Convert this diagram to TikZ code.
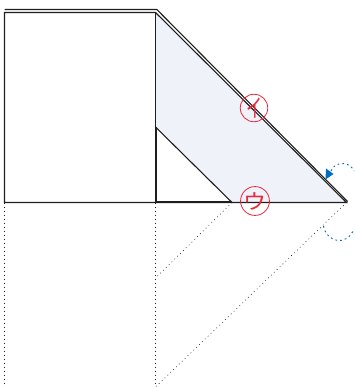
\documentclass[tikz,border=0pt]{standalone}
\usepackage{fontspec}
\newfontfamily\jpf{Noto Sans CJK JP}
\definecolor{paneltint}{RGB}{239,243,249}
\definecolor{ink}{RGB}{30,30,30}
\definecolor{markred}{RGB}{232,40,60}
\definecolor{turnblue}{RGB}{0,110,190}
\tikzset{
  edge/.style={draw=ink,line width=1.1pt},
  heavyedge/.style={draw=ink,line width=2pt,line cap=butt},
  guide/.style={draw=ink,line width=0.6pt,dash pattern=on 0.8pt off 3.2pt},
  turnline/.style={draw=turnblue,line width=0.9pt,dash pattern=on 1.8pt off 3pt},
  circled/.style={circle,draw=markred,line width=0.8pt,minimum size=27.5pt,inner sep=0pt,text=markred,font=\jpf\fontsize{20pt}{20pt}\selectfont}
}
\begin{document}
\begin{tikzpicture}[x=1pt,y=-1pt]
\useasboundingbox (0,0) rectangle (354,387);
\coordinate (tl) at (4.5,12.5);
\coordinate (tr) at (155.5,12.5);
\coordinate (bl) at (4.5,202.5);
\coordinate (br) at (155.5,202.5);
\coordinate (tip) at (346.5,202.5);
\coordinate (otl) at (4.5,9.5);
\coordinate (otr) at (156.8,9.5);
\coordinate (otip) at (347.5,201.5);
\coordinate (ti) at (155.5,127);
\coordinate (fi) at (232,202.5);
\coordinate (hv) at (156.3,127.5);
\coordinate (hc) at (156.3,201.7);
\coordinate (hb) at (231,201.7);
\coordinate (g1) at (4.5,387);
\coordinate (g2) at (155.5,387);
\coordinate (g3) at (155.5,278);
\fill[paneltint] (tr) -- (tip) -- (fi) -- (ti) -- cycle;
\path[guide] (bl) -- (g1);
\path[guide] (br) -- (g2);
\path[guide] (fi) -- (g3);
\path[guide] (tip) -- (g2);
\path[edge] (otl) -- (otr) -- (otip);
\path[edge] (tl) -- (tr) -- (tip) -- (bl) -- cycle;
\path[edge] (tr) -- (br);
\path[edge] (ti) -- (fi);
\path[heavyedge] (hv) -- (hc) -- (hb);
\node[circled] (i) at (254,108) {\scalebox{0.8}[1.25]{イ}};
\node[circled] (u) at (255,201) {\scalebox{1.15}[1.05]{ウ}};
\coordinate (a1) at (331,171);
\coordinate (b1) at (323.5,226);
\path[turnline] (a1) .. controls (334,162) and (349,160) .. (354,171);
\path[turnline] (b1) .. controls (326,241) and (346,248) .. (354,229);
\fill[turnblue] (326,168.5) -- (333.5,174) -- (325.5,179.5) -- cycle;
\end{tikzpicture}
\end{document}
